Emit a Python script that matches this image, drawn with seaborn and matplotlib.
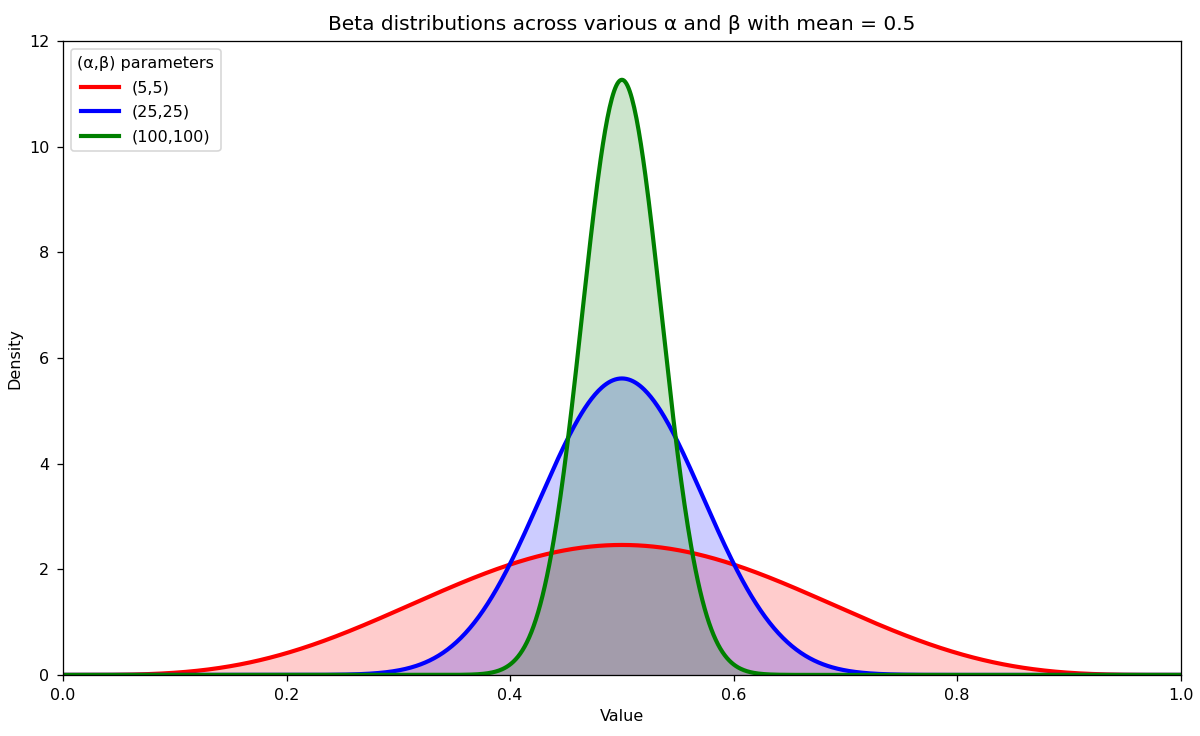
import math
import numpy as np
import pandas as pd
import matplotlib
matplotlib.use("Agg")
import matplotlib.pyplot as plt
import seaborn as sns

# (alpha, beta) parameters shown in the legend
labels = ["(5,5)", "(25,25)", "(100,100)"]
alphas = [5, 25, 100]
betas = [5, 25, 100]
colors = ["red", "blue", "green"]

x = np.linspace(0, 1, 1001)

def beta_pdf(xv, a, b):
    lnB = math.lgamma(a) + math.lgamma(b) - math.lgamma(a + b)
    with np.errstate(divide="ignore"):
        out = np.exp((a - 1) * np.log(xv) + (b - 1) * np.log(1 - xv) - lnB)
    return np.nan_to_num(out)

frames = []
for lab, a, b in zip(labels, alphas, betas):
    frames.append(pd.DataFrame({"Value": x, "Density": beta_pdf(x, a, b), "params": lab}))
df = pd.concat(frames, ignore_index=True)

plt.rcParams["font.family"] = ["DejaVu Sans"]
DPI = 115
fig, ax = plt.subplots(figsize=(1200 / DPI, 736 / DPI), dpi=DPI)
fig.subplots_adjust(left=0.0525, right=0.984, top=0.944, bottom=0.083)

sns.lineplot(data=df, x="Value", y="Density", hue="params", hue_order=labels,
             palette=colors, linewidth=2.6, ax=ax)
for lab, c in zip(labels, colors):
    sub = df[df["params"] == lab]
    ax.fill_between(sub["Value"], sub["Density"], color=c, alpha=0.2, linewidth=0)

ax.set_xlim(0, 1)
ax.set_ylim(0, 12)
ax.tick_params(axis="y", pad=5)
ax.tick_params(axis="x", pad=4.5)
ax.set_title("Beta distributions across various α and β with mean = 0.5", fontsize=12.6, pad=7)
ax.set_xlabel("Value")
ax.set_ylabel("Density")
ax.legend(title="(α,β) parameters", loc="upper left", handlelength=2.4, labelspacing=0.6)
fig.savefig("out.png", dpi=DPI)
